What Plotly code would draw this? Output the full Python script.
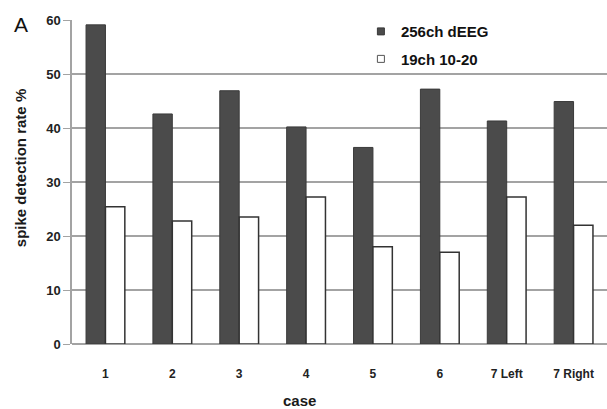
import plotly.graph_objects as go

cases = ["1", "2", "3", "4", "5", "6", "7 Left", "7 Right"]
dense_eeg = [59.1, 42.6, 46.9, 40.2, 36.4, 47.2, 41.3, 44.9]
std_1020 = [25.4, 22.8, 23.5, 27.2, 18.0, 17.0, 27.2, 22.0]
y_ticks = [0, 10, 20, 30, 40, 50, 60]
series_names = ["256ch dEEG", "19ch 10-20"]

DARK = "#4b4b4b"
GRID = "#a3a3a3"

fig = go.Figure()
fig.add_trace(go.Bar(x=cases, y=dense_eeg, name=series_names[0], showlegend=False,
                     marker=dict(color=DARK, line=dict(color="#3a3a3a", width=1))))
fig.add_trace(go.Bar(x=cases, y=std_1020, name=series_names[1], showlegend=False,
                     marker=dict(color="white", line=dict(color="#333333", width=1.5))))
# legend entries with small square keys
fig.add_trace(go.Scatter(x=[None], y=[None], mode="markers", name=series_names[0],
                         legendgroup="a",
                         marker=dict(symbol="square", size=7, color=DARK,
                                     line=dict(color="#3a3a3a", width=1))))
fig.add_trace(go.Scatter(x=[None], y=[None], mode="markers", name=series_names[1],
                         legendgroup="b",
                         marker=dict(symbol="square", size=7, color="white",
                                     line=dict(color="#555555", width=1))))

fig.update_layout(
    width=607, height=409,
    margin=dict(l=72, r=0, t=20, b=65),
    paper_bgcolor="white", plot_bgcolor="white",
    barmode="group", bargap=0.42, bargroupgap=0,
    font=dict(family="Liberation Sans, Arial", color="#1a1a1a"),
    legend=dict(x=0.54, y=1.015, xanchor="left", yanchor="top",
                font=dict(size=15, color="#111", weight="bold"),
                bgcolor="rgba(0,0,0,0)", itemwidth=30,
                traceorder="grouped", tracegroupgap=5),
    showlegend=True,
)
fig.update_xaxes(tickfont=dict(size=12, color="#222", weight="bold"), showline=False,
                 ticks="outside", ticklen=19, tickcolor="rgba(0,0,0,0)", showgrid=False)
fig.update_yaxes(range=[0, 60], tickvals=y_ticks,
                 tickfont=dict(size=13, color="#222", weight="bold"),
                 showgrid=True, gridcolor=GRID, gridwidth=1.5,
                 showline=True, linecolor=GRID, linewidth=1.5,
                 ticks="outside", ticklen=7, tickcolor=GRID,
                 zeroline=True, zerolinecolor=GRID, zerolinewidth=1.5)
# axis titles placed as in the reference
fig.add_annotation(text="case", xref="paper", yref="paper", x=0.426, y=-0.173,
                   xanchor="center", yanchor="middle", showarrow=False,
                   font=dict(size=15, color="#1a1a1a", weight="bold"))
fig.add_annotation(text="spike detection rate %", xref="paper", yref="paper",
                   x=-0.097, y=0.543, textangle=-90,
                   xanchor="center", yanchor="middle", showarrow=False,
                   font=dict(size=15, color="#1a1a1a", weight="bold"))
fig.add_annotation(text="A", xref="paper", yref="paper", x=-0.112, y=0.985,
                   xanchor="left", yanchor="middle", showarrow=False,
                   font=dict(size=21, color="#111"))

fig.write_html("out.html", config={"displayModeBar": False},
               post_script="document.body.style.margin='0';")
